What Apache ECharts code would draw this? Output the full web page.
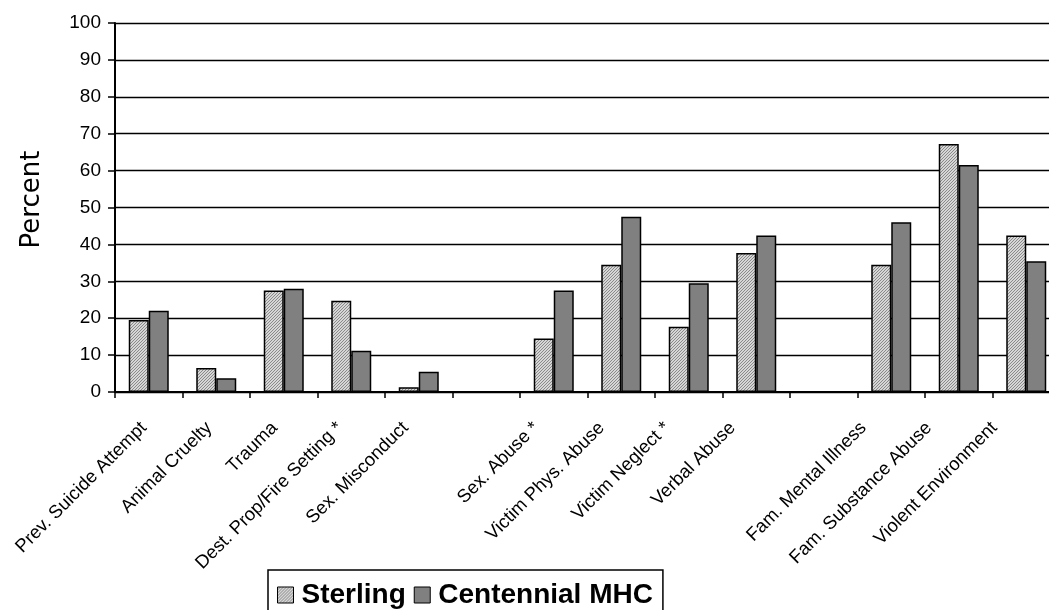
<!DOCTYPE html>
<html>
<head>
<meta charset="utf-8">
<script src="https://cdn.jsdelivr.net/npm/echarts@6/dist/echarts.min.js"></script>
<style>
html,body{margin:0;padding:0;background:#fff;}
#chart{width:1049px;height:610px;}
</style>
</head>
<body>
<div id="chart"></div>
<script>
const categories = [
  'Prev. Suicide Attempt', 'Animal Cruelty', 'Trauma', 'Dest. Prop/Fire Setting *', 'Sex. Misconduct',
  '',
  'Sex. Abuse *', 'Victim Phys. Abuse', 'Victim Neglect *', 'Verbal Abuse',
  ' ',
  'Fam. Mental Illness', 'Fam. Substance Abuse', 'Violent Environment'
];
const sterling   = [19.5, 6.5, 27.5, 24.7, 1.3, null, 14.5, 34.5, 17.7, 37.7, null, 34.5, 67.2, 42.4];
const centennial = [22.0, 3.7, 28.0, 11.2, 5.5, null, 27.5, 47.5, 29.5, 42.4, null, 46.0, 61.5, 35.4];
const yTicks = [0, 10, 20, 30, 40, 50, 60, 70, 80, 90, 100];

function hatch() {
  const c = document.createElement('canvas');
  c.width = 3; c.height = 3;
  const g = c.getContext('2d');
  g.fillStyle = '#d6d6d6';
  g.fillRect(0, 0, 3, 3);
  g.fillStyle = '#8a8a8a';
  for (let i = 0; i < 3; i++) {
    g.fillRect(i, 2 - i, 1, 1);
  }
  return c;
}

const chart = echarts.init(document.getElementById('chart'), null, {renderer: 'canvas'});
const font = '"Liberation Sans", Arial, sans-serif';
chart.setOption({
  animation: false,
  backgroundColor: '#fff',
  grid: [
    {left: 115, top: 23, width: 945, height: 369, containLabel: false, outerBoundsMode: 'none'},
    {left: 111, top: 23, width: 916, height: 369, containLabel: false, outerBoundsMode: 'none'}
  ],
  legend: {
    left: 268, top: 570,
    data: ['Sterling', 'Centennial MHC'],
    icon: 'rect',
    itemWidth: 16, itemHeight: 16, itemGap: 8,
    padding: [11, 10, 20, 9],
    borderColor: '#000', borderWidth: 1.5,
    textStyle: {fontFamily: font, fontWeight: 'bold', fontSize: 28, color: '#000', padding: [0, 0, 0, 3]},
    itemStyle: {borderColor: '#000', borderWidth: 1}
  },
  xAxis: [
    {
      type: 'category',
      gridIndex: 0,
      data: categories,
      axisLine: {lineStyle: {color: '#000', width: 2}},
      axisTick: {show: true, interval: 0, length: 6, lineStyle: {color: '#000', width: 1.5}},
      axisLabel: {show: false, interval: 0},
      splitLine: {show: false}
    },
    {
      type: 'category',
      gridIndex: 1,
      data: categories,
      axisLine: {show: false},
      axisTick: {show: false},
      axisLabel: {
        interval: 0, rotate: 45, margin: 33,
        fontFamily: font, fontSize: 18.5, color: '#000'
      },
      splitLine: {show: false}
    }
  ],
  yAxis: [
    {
      type: 'value',
      gridIndex: 0,
      min: yTicks[0], max: yTicks[yTicks.length - 1], interval: 10,
      name: 'Percent',
      nameLocation: 'middle',
      nameGap: 70,
      nameRotate: 90,
      nameTextStyle: {fontFamily: '"DejaVu Sans", sans-serif', fontSize: 26, color: '#000', padding: [0, 0, 0, 16]},
      axisLine: {show: true, lineStyle: {color: '#000', width: 2}},
      axisTick: {show: true, length: 7, lineStyle: {color: '#000', width: 1.5}},
      axisLabel: {margin: 14, fontFamily: font, fontSize: 19, color: '#000'},
      splitLine: {show: true, lineStyle: {color: '#000', width: 1.3}}
    },
    {
      type: 'value', gridIndex: 1, min: 0, max: 100, show: false
    }
  ],
  series: [
    {
      name: 'Sterling', type: 'bar', data: sterling,
      xAxisIndex: 0, yAxisIndex: 0,
      barWidth: 20, barGap: '0%',
      itemStyle: {color: {image: hatch(), repeat: 'repeat'}, borderColor: '#000', borderWidth: 1.5}
    },
    {
      name: 'Centennial MHC', type: 'bar', data: centennial,
      xAxisIndex: 0, yAxisIndex: 0,
      barWidth: 20,
      itemStyle: {color: '#808080', borderColor: '#000', borderWidth: 1.5}
    }
  ]
});
</script>
</body>
</html>
